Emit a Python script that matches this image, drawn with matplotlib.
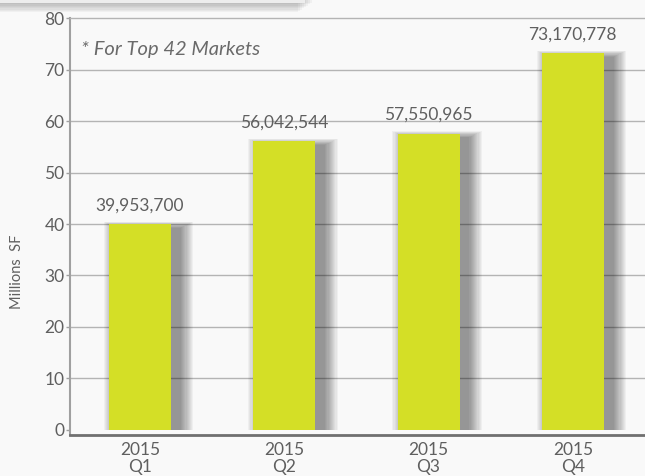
import matplotlib.pyplot as plt
from matplotlib.patches import Rectangle

# Quarterly values (square feet)
quarters = ['2015\nQ1', '2015\nQ2', '2015\nQ3', '2015\nQ4']
values_sf = [39953700, 56042544, 57550965, 73170778]
y_ticks = [0, 10, 20, 30, 40, 50, 60, 70, 80]

bar_color = '#d4df26'
text_color = '#5f5f5f'
bg_color = '#f9f9f9'

plt.rcParams['font.family'] = ['Lato', 'DejaVu Sans']

fig = plt.figure(figsize=(6.45, 4.76), dpi=100, facecolor=bg_color)
ax = fig.add_axes([0.1085, 0.086, 0.8915, 0.876], facecolor=bg_color)

x = list(range(len(quarters)))
millions = [v / 1e6 for v in values_sf]
width = 0.43

# soft drop shadow behind each bar, built from faint stacked layers
for k in range(1, 13):
    ax.bar([i + 0.06 for i in x], [m - 0.8 + 0.11 * k for m in millions],
           width=width + 0.016 * k, color='black', alpha=0.04,
           linewidth=0, zorder=2)

ax.bar(x, millions, width=width, color=bar_color, linewidth=0, zorder=3)

for i, v in zip(x, values_sf):
    ax.text(i, v / 1e6 + 2.1, f'{v:,}', ha='center', va='bottom',
            fontsize=12.5, color=text_color, zorder=4)

ax.set_xlim(-0.485, 3.5)
ax.set_ylim(-1, 80)
ax.set_yticks(y_ticks)
ax.set_yticklabels([str(t) for t in y_ticks])
ax.set_xticks(x)
ax.set_xticklabels(quarters, linespacing=1.1)

for t in y_ticks[1:-1]:
    ax.axhline(t, color='#b4b4b4', linewidth=1, zorder=1)

ax.tick_params(axis='y', length=3, width=1, color='#a0a0a0',
               labelsize=12.5, labelcolor=text_color, pad=1)
ax.tick_params(axis='x', length=0, labelsize=12.5, labelcolor=text_color, pad=5)

ax.spines['right'].set_visible(False)
ax.spines['top'].set_color('#b4b4b4')
ax.spines['top'].set_linewidth(1)
ax.spines['left'].set_color('#a0a0a0')
ax.spines['left'].set_linewidth(1.5)
ax.spines['bottom'].set_color('#707070')
ax.spines['bottom'].set_linewidth(2)
ax.spines['bottom'].set_zorder(5)

ax.text(0.02, 0.925, '* For Top 42 Markets', transform=ax.transAxes,
        fontsize=14.5, style='italic', color='#6a6a6a', ha='left', va='center')

fig.text(0.026, 0.43, 'Millions  SF', rotation=90, ha='center', va='center',
         fontsize=10.5, color=text_color)

# header box peeking in at the top-left corner, with its shadow
for k in range(8):
    fig.patches.append(Rectangle((0, 1 - (3 + k * 1.3) / 476), (312 - k * 2) / 645,
                                 0.1, transform=fig.transFigure, color='black',
                                 alpha=0.035, linewidth=0, zorder=0))
fig.patches.append(Rectangle((0, 1 - 3 / 476), 305 / 645, 0.1,
                             transform=fig.transFigure, color='#ededed',
                             linewidth=0, zorder=1))

fig.savefig('out.png', dpi=100, facecolor=bg_color)
